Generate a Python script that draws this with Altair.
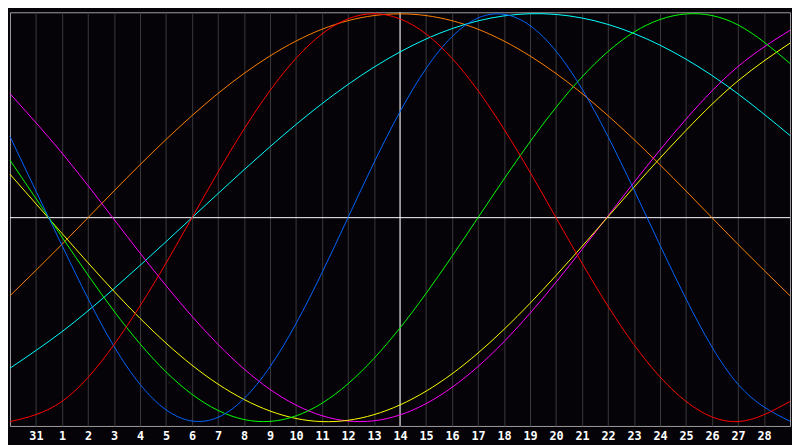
import json
import altair as alt
import pandas as pd

# Day index 0 = 30 Jan ... 30 = 1 Mar (samples every second day)
days = [0, 2, 4, 6, 8, 10, 12, 14, 16, 18, 20, 22, 24, 26, 28, 30]

red_vals = [-1.000, -0.901, -0.623, -0.223, 0.223, 0.623, 0.901, 1.000,
            0.901, 0.623, 0.223, -0.223, -0.623, -0.901, -1.000, -0.901]
blue_vals = [0.398, -0.136, -0.631, -0.942, -0.979, -0.731, -0.270, 0.270,
             0.731, 0.979, 0.942, 0.631, 0.136, -0.398, -0.817, -0.998]
green_vals = [0.282, -0.095, -0.458, -0.756, -0.945, -0.999, -0.910, -0.690,
              -0.372, 0.000, 0.372, 0.690, 0.910, 0.999, 0.945, 0.756]
orange_vals = [-0.383, -0.131, 0.131, 0.383, 0.609, 0.793, 0.924, 0.991,
               0.991, 0.924, 0.793, 0.609, 0.383, 0.131, -0.131, -0.383]
cyan_vals = [-0.738, -0.559, -0.348, -0.118, 0.118, 0.348, 0.559, 0.738,
             0.876, 0.965, 1.000, 0.979, 0.903, 0.777, 0.607, 0.403]
magenta_vals = [0.608, 0.317, -0.008, -0.333, -0.621, -0.842, -0.971, -0.996,
                -0.912, -0.730, -0.469, -0.156, 0.173, 0.483, 0.741, 0.919]
yellow_vals = [0.213, -0.077, -0.361, -0.615, -0.816, -0.948, -1.000, -0.966,
               -0.851, -0.664, -0.420, -0.141, 0.150, 0.428, 0.671, 0.856]

series_names = ["orange", "cyan", "magenta", "yellow", "green", "blue", "red"]
series_colors = ["#ff8000", "#00ffff", "#ff00ff", "#ffff00", "#00ff00", "#0064ff", "#ff0000"]
series_values = [orange_vals, cyan_vals, magenta_vals, yellow_vals, green_vals, blue_vals, red_vals]

tick_days = [1, 2, 3, 4, 5, 6, 7, 8, 9, 10, 11, 12, 13, 14, 15, 16, 17, 18, 19, 20,
             21, 22, 23, 24, 25, 26, 27, 28, 29]
tick_labels = ["31", "1", "2", "3", "4", "5", "6", "7", "8", "9", "10", "11", "12", "13",
               "14", "15", "16", "17", "18", "19", "20", "21", "22", "23", "24", "25",
               "26", "27", "28"]
today_day = [15]
zero_level = [0.0]

rows = []
for name, vals in zip(series_names, series_values):
    for d, v in zip(days, vals):
        rows.append({"day": d, "value": v, "series": name})
df = pd.DataFrame(rows)

label_expr = json.dumps(tick_labels) + "[datum.value - 1]"

x_scale = alt.Scale(domain=[0, 30], nice=False, zero=False)
y_scale = alt.Scale(domain=[-1.0213, 1.0071], nice=False, zero=False)

x_axis = alt.Axis(values=tick_days, labelExpr=label_expr, grid=True, gridColor="#3a3a3a",
                  gridWidth=1, domain=False, ticks=False, labelColor="white",
                  labelFont="DejaVu Sans Mono", labelFontWeight="bold", labelFontSize=12,
                  labelPadding=5, labelAngle=0, title=None, labelFlush=False)

hrule = alt.Chart(pd.DataFrame({"value": zero_level})).mark_rule(
    color="white", strokeWidth=1).encode(
    y=alt.Y("value:Q", scale=y_scale, axis=None))

vrule = alt.Chart(pd.DataFrame({"day": today_day})).mark_rule(
    color="white", strokeWidth=1).encode(
    x=alt.X("day:Q", scale=x_scale, axis=x_axis))

lines = alt.Chart(df).mark_line(strokeWidth=1, interpolate="natural").encode(
    x=alt.X("day:Q", scale=x_scale, axis=x_axis),
    y=alt.Y("value:Q", scale=y_scale, axis=None),
    color=alt.Color("series:N", scale=alt.Scale(domain=series_names, range=series_colors),
                    legend=None),
    order=alt.Order("day:Q"),
)

chart = alt.layer(hrule, vrule, lines).properties(
    width=792, height=420, background="#050308", padding=0
).configure_view(stroke="#a0a0a0", strokeWidth=1, fill="#050308")

chart.save("out.html", embed_options={"renderer": "svg", "actions": False})
